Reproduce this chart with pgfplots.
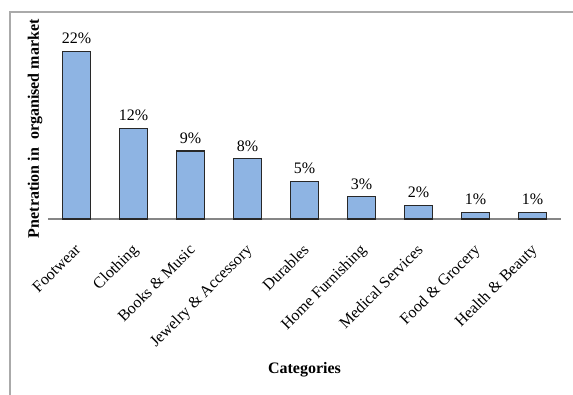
\documentclass[border=0pt]{standalone}
\usepackage{pgfplots}
\pgfplotsset{compat=1.18}
\usepackage{fontspec}
\setmainfont{Liberation Serif}
\definecolor{barfill}{RGB}{142,180,227}
\definecolor{baredge}{RGB}{40,40,40}
\definecolor{axisgray}{RGB}{134,134,134}
\definecolor{framegray}{RGB}{170,170,170}
\begin{document}
\begin{tikzpicture}
\path[use as bounding box] (-36pt,-132pt) rectangle (393.75pt,164.25pt);
\draw[framegray, line width=1.3pt] (-28.5pt,-132pt) -- (-28.5pt,155.25pt) -- (393.75pt,155.25pt);
\begin{axis}[
  at={(0,0)}, anchor=south west,
  scale only axis,
  width=384.75pt, height=142.5pt,
  xmin=-0.5, xmax=8.5, ymin=0, ymax=25,
  axis x line*=bottom, axis y line*=left,
  x axis line style={axisgray, line width=0.9pt, -},
  y axis line style={draw=none},
  ybar, bar width=0.5,
  xtick={0,...,8},
  xticklabels={Footwear, Clothing, Books \& Music, Jewelry \& Accessory, Durables, Home Furnishing, Medical Services, Food \& Grocery, Health \& Beauty},
  xtick style={draw=none},
  x tick label style={rotate=45, anchor=north east, font=\fontsize{12}{14}\selectfont, inner sep=1pt, yshift=-7.2pt, xshift=-9.9pt},
  ytick=\empty,
  point meta=explicit symbolic,
  nodes near coords={\pgfplotspointmeta\%},
  every node near coord/.append style={font=\fontsize{12}{14}\selectfont, black, yshift=2pt},
  ylabel={\textbf{Pnetration in \ organised market}},
  ylabel style={at={(axis description cs:-0.025,0.475)}, anchor=center, rotate=0, font=\fontsize{12}{14}\selectfont},
  xlabel={\textbf{Categories}},
  xlabel style={at={(axis description cs:0.5,-0.795)}, anchor=center, font=\fontsize{12}{14}\selectfont},
  clip=false,
]
\addplot[fill=barfill, draw=baredge, line width=0.8pt] table[meta=lab] {
x y lab
0 22 22
1 11.9 12
2 8.95 9
3 7.9 8
4 4.9 5
5 2.9 3
6 1.8 2
7 0.83 1
8 0.83 1
};
\end{axis}
\end{tikzpicture}
\end{document}
